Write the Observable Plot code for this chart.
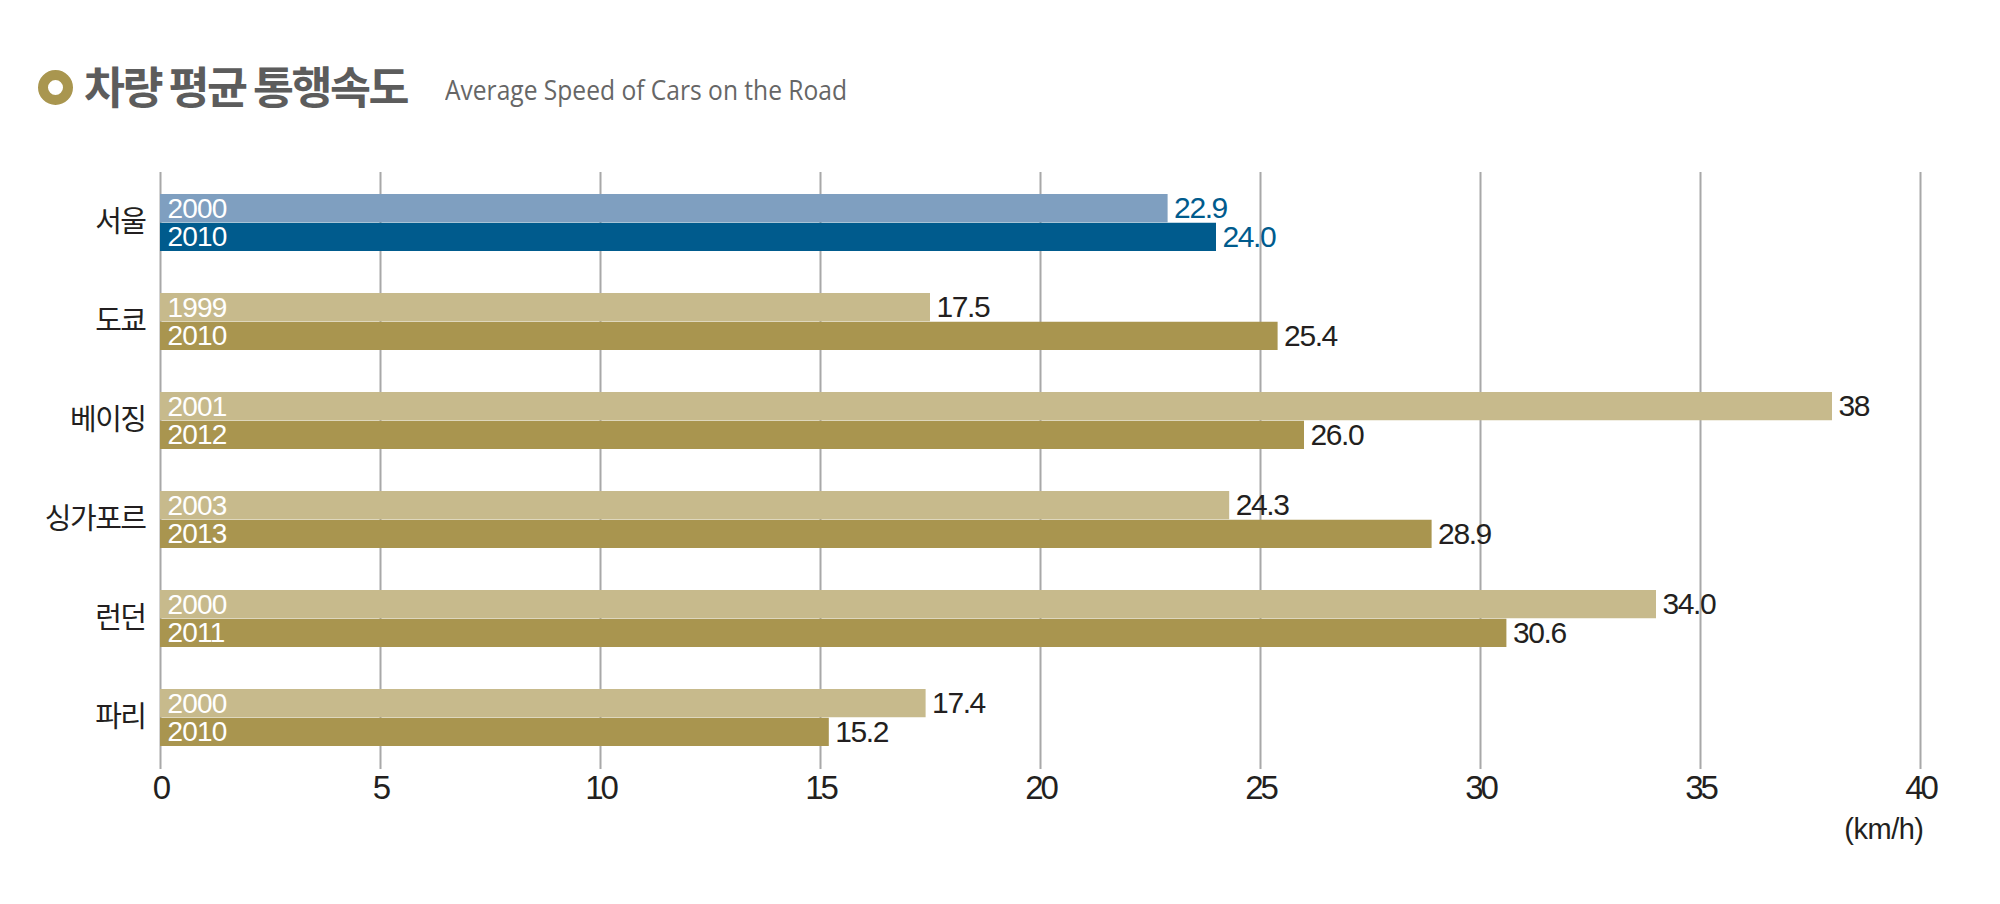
<!DOCTYPE html>
<html>
<head>
<meta charset="utf-8">
<script src="https://cdn.jsdelivr.net/npm/d3@7"></script>
<script src="https://cdn.jsdelivr.net/npm/@observablehq/plot@0.6"></script>
<style>
  html, body { margin: 0; padding: 0; background: #fff; }
  #wrap { width: 2000px; height: 904px; overflow: hidden; position: relative; }
  #head { position: relative; width: 2000px; height: 140px; }
  #ring { position: absolute; left: 38px; top: 70px; width: 15px; height: 15px; border: 10px solid #a9964f; border-radius: 50%; }
  #ko { position: absolute; left: 84px; top: 63px; font-family: "Noto Sans CJK KR", sans-serif; font-weight: 700; font-size: 44px; line-height: 1; letter-spacing: -2.5px; color: #5c5c5c; white-space: nowrap; transform-origin: 0 0; }
  #en { position: absolute; left: 445px; top: 76px; font-family: "Open Sans", sans-serif; font-size: 27px; line-height: 1; color: #666; white-space: nowrap; transform-origin: 0 0; }
  #chart svg { display: block; }
</style>
</head>
<body>
<div id="wrap">
  <div id="head">
    <div id="ring"></div>
    <div id="ko">차량 평균 통행속도</div>
    <div id="en">Average Speed of Cars on the Road</div>
  </div>
  <div id="chart"></div>
</div>
<script>
// ---- data ----
const cities = ["서울", "도쿄", "베이징", "싱가포르", "런던", "파리"];
const yearsFirst = ["2000", "1999", "2001", "2003", "2000", "2000"];
const yearsSecond = ["2010", "2010", "2012", "2013", "2011", "2010"];
const speedFirst = [22.9, 17.5, 38, 24.3, 34.0, 17.4];
const speedSecond = [24.0, 25.4, 26.0, 28.9, 30.6, 15.2];
const labelsFirst = ["22.9", "17.5", "38", "24.3", "34.0", "17.4"];
const labelsSecond = ["24.0", "25.4", "26.0", "28.9", "30.6", "15.2"];
const xTicks = [0, 5, 10, 15, 20, 25, 30, 35, 40];
const unitLabel = "(km/h)";

// ---- table built from arrays ----
const first = cities.map((c, i) => ({city: c, year: yearsFirst[i], v: speedFirst[i], label: labelsFirst[i]}));
const second = cities.map((c, i) => ({city: c, year: yearsSecond[i], v: speedSecond[i], label: labelsSecond[i]}));

const isSeoul = d => d.city === "서울";
const fillFirst = d => isSeoul(d) ? "#7f9fc0" : "#c7ba8c";
const fillSecond = d => isSeoul(d) ? "#005b8d" : "#a9954f";
const valueColor = d => isSeoul(d) ? "#005b8d" : "#231f20";

const half = 28.75;   // half of band width
const q = 14.4;       // quarter of band width
const numFont = "'Liberation Sans', Arial, sans-serif";

const chart = Plot.plot({
  width: 2000,
  height: 764,
  marginTop: 32,
  marginBottom: 135,
  marginLeft: 160,
  marginRight: 80,
  style: {background: "#fff", color: "#231f20", fontFamily: numFont},
  color: {type: "identity"},
  x: {domain: [0, 40]},
  y: {domain: cities, paddingInner: 0.42, paddingOuter: 0.222},
  marks: [
    Plot.ruleX(xTicks, {stroke: "#a8a8a8", strokeWidth: 2}),
    Plot.barX(first, {x: "v", y: "city", fill: fillFirst, insetBottom: half}),
    Plot.barX(second, {x: "v", y: "city", fill: fillSecond, insetTop: half}),
    Plot.text(first, {x: 0, y: "city", text: "year", dx: 7, dy: -q, textAnchor: "start", fill: "#fff", fontSize: 28}),
    Plot.text(second, {x: 0, y: "city", text: "year", dx: 7, dy: q, textAnchor: "start", fill: "#fff", fontSize: 28}),
    Plot.text(first, {x: "v", y: "city", text: "label", dx: 6, dy: -q, textAnchor: "start", fill: valueColor, fontSize: 30}),
    Plot.text(second, {x: "v", y: "city", text: "label", dx: 6, dy: q, textAnchor: "start", fill: valueColor, fontSize: 30}),
    Plot.text([unitLabel], {frameAnchor: "bottom-right", text: d => d, textAnchor: "end", dx: 3, dy: 69, fontSize: 29, fill: "#231f20"}),
    Plot.axisY({tickSize: 0, tickPadding: 15, fontSize: 29, fontFamily: "'Noto Sans CJK KR', sans-serif", label: null}),
    Plot.axisX({ticks: xTicks, tickSize: 0, tickPadding: 6, fontSize: 33, tickFormat: d => String(d), label: null})
  ]
});
document.getElementById("chart").appendChild(chart);

// letter spacing tweaks (narrow typeface look)
const textGroups = chart.querySelectorAll('g[aria-label="text"]');
textGroups.forEach((g, i) => {
  if (i < 2) g.setAttribute("letter-spacing", "-0.8");
  else if (i < 4) g.setAttribute("letter-spacing", "-1.4");
  else g.setAttribute("letter-spacing", "-0.5");
});
const yLab = chart.querySelector('g[aria-label="y-axis tick label"]');
if (yLab) yLab.setAttribute("letter-spacing", "-1.5");
const xLab = chart.querySelector('g[aria-label="x-axis tick label"]');
if (xLab) xLab.setAttribute("letter-spacing", "-3");

// fit title widths to the reference
const ko = document.getElementById("ko");
const wk = ko.getBoundingClientRect().width;
if (wk > 0) ko.style.transform = `scaleX(${323 / wk})`;
const en = document.getElementById("en");
const w = en.getBoundingClientRect().width;
if (w > 0) en.style.transform = `scaleX(${402 / w})`;
</script>
</body>
</html>
